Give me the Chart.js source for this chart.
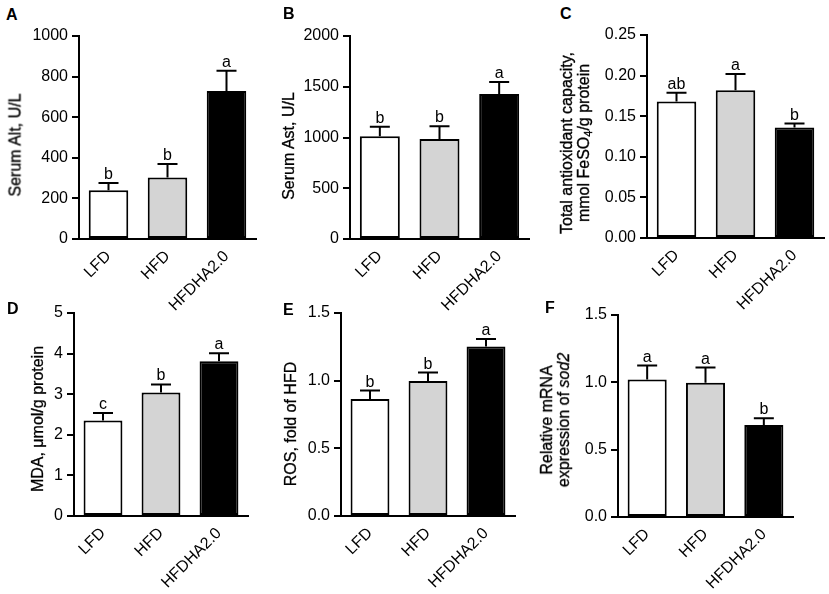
<!DOCTYPE html>
<html>
<head>
<meta charset="utf-8">
<script src="https://cdn.jsdelivr.net/npm/chart.js@4.4.0/dist/chart.umd.min.js"></script>
<style>
body{margin:0;background:#fff;width:829px;height:594px;position:relative;overflow:hidden;font-family:"Liberation Sans",Arial,sans-serif;color:#000;}
canvas{position:absolute;}
.lbl{position:absolute;font-weight:bold;font-size:16px;line-height:16px;}
.ttl{position:absolute;font-size:16px;white-space:nowrap;text-align:center;line-height:17px;transform:translate(-50%,-50%) rotate(-90deg);-webkit-text-stroke:0.3px #000;}
.ttl sub{font-size:11px;line-height:0;vertical-align:-3px;}
</style>
</head>
<body>
<script>
const groups=["LFD","HFD","HFDHA2.0"];

// values (mean, upper SEM, letters)
const altMean=[240,303,729];
const altSem=[36,67,100];
const altSig=["b","b","a"];

const astMean=[1013,984,1428];
const astSem=[92,128,118];
const astSig=["b","b","a"];

const taocMean=[0.168,0.182,0.136];
const taocSem=[0.011,0.020,0.005];
const taocSig=["ab","a","b"];

const mdaMean=[2.35,3.04,3.81];
const mdaSem=[0.19,0.20,0.20];
const mdaSig=["c","b","a"];

const rosMean=[0.865,0.998,1.253];
const rosSem=[0.062,0.062,0.054];
const rosSig=["b","b","a"];

const sodMean=[1.021,0.997,0.683];
const sodSem=[0.104,0.113,0.05];
const sodSig=["a","a","b"];

const barFill=["#ffffff","#d4d4d4","#000000"];
const FONT='"Liberation Sans", Arial, sans-serif';

// panel layout: axis corner positions in page pixels
const panels=[
 {id:"A",mean:altMean,sem:altSem,sig:altSig,max:1000,step:200,dec:0,ax:79,xe:256,yt:36,yb:239,bot:330,
  title:"Serum Alt, U/L",tx:15,ty:145,lx:6,ly:7},
 {id:"B",mean:astMean,sem:astSem,sig:astSig,max:2000,step:500,dec:0,ax:350,xe:529,yt:36,yb:239,bot:330,
  title:"Serum Ast, U/L",tx:288,ty:146,lx:283,ly:6},
 {id:"C",mean:taocMean,sem:taocSem,sig:taocSig,max:0.25,step:0.05,dec:2,ax:647,xe:824,yt:35,yb:238,bot:330,
  title:"Total antioxidant capacity,<br>mmol FeSO<sub>4</sub>/g protein",tx:575,ty:143,lx:560,ly:6},
 {id:"D",mean:mdaMean,sem:mdaSem,sig:mdaSig,max:5,step:1,dec:0,ax:74,xe:248,yt:313,yb:516,bot:594,
  title:"MDA, \u03bcmol/g protein",tx:37,ty:419,lx:7,ly:301},
 {id:"E",mean:rosMean,sem:rosSem,sig:rosSig,max:1.5,step:0.5,dec:1,ax:341,xe:515,yt:313,yb:516,bot:594,
  title:"ROS, fold of HFD",tx:290,ty:424,lx:283,ly:302},
 {id:"F",mean:sodMean,sem:sodSem,sig:sodSig,max:1.5,step:0.5,dec:1,ax:618,xe:793,yt:315,yb:517,bot:594,
  title:"Relative mRNA<br>expression of <i>sod2</i>",tx:555,ty:420,lx:545,ly:300}
];

// error bars + significance letters
const errPlugin={
  id:"errbars",
  afterDatasetsDraw(chart,args,opts){
    const ctx=chart.ctx;
    const y=chart.scales.y;
    const meta=chart.getDatasetMeta(0);
    ctx.save();
    ctx.strokeStyle="#000";
    ctx.lineWidth=2;
    ctx.fillStyle="#000";
    ctx.font="16px "+FONT;
    ctx.textAlign="center";
    ctx.textBaseline="alphabetic";
    meta.data.forEach((bar,i)=>{
      const m=opts.mean[i],e=opts.sem[i];
      const y0=y.getPixelForValue(m);
      const y1=y.getPixelForValue(m+e);
      ctx.beginPath();
      ctx.moveTo(bar.x,y0);ctx.lineTo(bar.x,y1);
      ctx.moveTo(bar.x-10,y1);ctx.lineTo(bar.x+10,y1);
      ctx.stroke();
      ctx.fillText(opts.sig[i],bar.x,y1-4);
    });
    ctx.restore();
  }
};

panels.forEach(p=>{
  const L=p.ax-60,T=p.yt-30,R=p.xe+6,B=p.bot;
  const cv=document.createElement("canvas");
  cv.width=R-L;cv.height=B-T;
  cv.style.left=L+"px";cv.style.top=T+"px";
  document.body.appendChild(cv);

  const lb=document.createElement("div");
  lb.className="lbl";lb.textContent=p.id;
  lb.style.left=p.lx+"px";lb.style.top=p.ly+"px";
  document.body.appendChild(lb);

  const tt=document.createElement("div");
  tt.className="ttl";tt.innerHTML=p.title;
  tt.style.left=p.tx+"px";tt.style.top=p.ty+"px";
  document.body.appendChild(tt);

  new Chart(cv,{
    type:"bar",
    data:{
      labels:groups,
      datasets:[{
        data:p.mean,
        backgroundColor:barFill,
        borderColor:"#000",
        borderWidth:2,
        borderSkipped:false,
        categoryPercentage:1,
        barPercentage:0.67
      }]
    },
    options:{
      responsive:false,
      animation:false,
      events:[],
      layout:{padding:{top:p.yt-T,right:R-p.xe,left:0,bottom:0}},
      plugins:{
        legend:{display:false},
        tooltip:{enabled:false},
        errbars:{mean:p.mean,sem:p.sem,sig:p.sig}
      },
      scales:{
        x:{
          offset:true,
          grid:{display:true,drawOnChartArea:false,drawTicks:false,color:"rgba(0,0,0,0)"},
          border:{display:true,color:"#000",width:2},
          ticks:{color:"#000",font:{family:FONT,size:16},minRotation:45,maxRotation:45,padding:8},
          afterFit:s=>{s.height=B-p.yb;}
        },
        y:{
          min:0,max:p.max,
          grid:{display:true,drawOnChartArea:false,drawTicks:true,tickLength:7,color:"#000",lineWidth:2},
          border:{display:true,color:"#000",width:2},
          ticks:{stepSize:p.step,color:"#000",font:{family:FONT,size:16},padding:4,
                 callback:v=>Number(v).toFixed(p.dec)},
          afterFit:s=>{s.width=p.ax-L;}
        }
      }
    },
    plugins:[errPlugin]
  });
});
</script>
</body>
</html>
